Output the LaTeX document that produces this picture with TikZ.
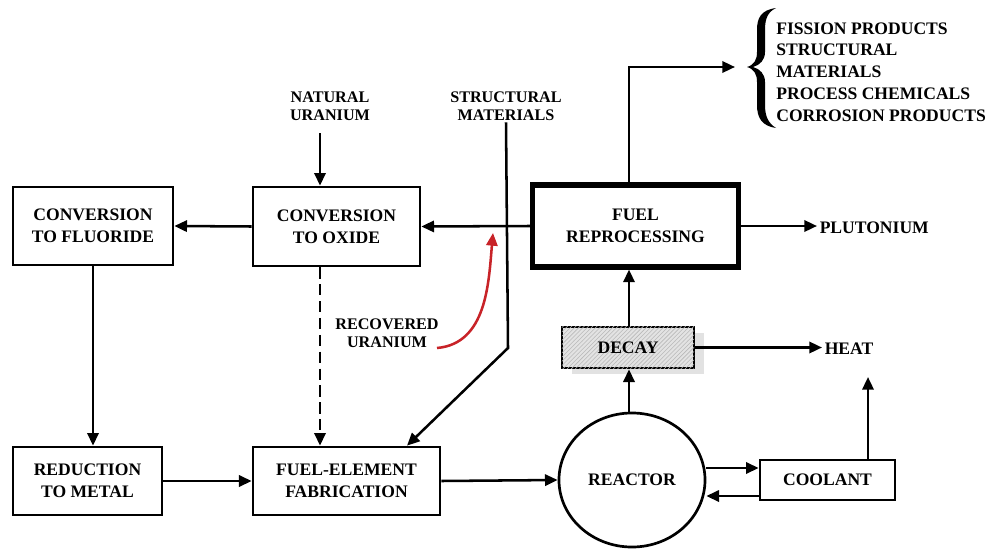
\documentclass[tikz,border=0pt]{standalone}
\usepackage{fontspec}
\setmainfont{Liberation Serif}
\usetikzlibrary{arrows.meta,shapes.geometric,patterns,shadows}

\definecolor{recred}{RGB}{200,35,40}

\tikzset{
	flowbox/.style={draw, line width=1.9pt, align=center, inner sep=2pt,
		font=\fontsize{12.5}{15.5}\selectfont\bfseries},
	label/.style={align=center, inner sep=1pt,
		font=\fontsize{11.5}{13}\selectfont\bfseries},
	flow/.style={line width=1.8pt, -{Triangle[length=9pt,width=8pt]}},
}

\begin{document}
\begin{tikzpicture}[x=0.025cm, y=-0.025cm]

	\useasboundingbox (0,0) rectangle (999,552);

	\node[flowbox, minimum width=4cm, minimum height=1.95cm] (fluoride) at (93,226) {CONVERSION\\TO FLUORIDE};
	\node[flowbox, minimum width=4.175cm, minimum height=1.975cm] (oxide) at (336.5,226.5) {CONVERSION\\TO OXIDE};
	\node[flowbox, line width=3.6pt, minimum width=5.15cm, minimum height=2.05cm] (reproc) at (635.5,226) {FUEL\\REPROCESSING};
	\node[flowbox, minimum width=3.725cm, minimum height=1.7cm] (reduction) at (87.5,481) {REDUCTION\\TO METAL};
	\node[flowbox, minimum width=4.675cm, minimum height=1.7cm] (fab) at (346.5,481) {FUEL-ELEMENT\\FABRICATION};
	\node[flowbox, ellipse, inner sep=0pt, minimum width=3.65cm, minimum height=3.35cm] (reactor) at (632,480) {REACTOR};
	\node[flowbox, minimum width=3.375cm, minimum height=1cm] (coolant) at (827.5,480) {COOLANT};
	\node[flowbox, minimum width=3.3cm, minimum height=1.025cm, fill=gray!22,
		drop shadow={shadow xshift=0.24cm, shadow yshift=-0.16cm, fill=gray!45},
		postaction={pattern=north east lines, pattern color=gray!55}] (decay) at (628,347.5) {DECAY};

	\node[label] (natural) at (330,106) {NATURAL\\URANIUM};
	\node[label] (structural) at (506,106) {STRUCTURAL\\MATERIALS};
	\node[label] (recovered) at (387,333) {RECOVERED\\URANIUM};
	\node[flowbox, draw=none, anchor=west, inner sep=1pt] (plutonium) at (817,228) {PLUTONIUM};
	\node[flowbox, draw=none, anchor=west, inner sep=1pt] (heat) at (822,349) {HEAT};
	\node[flowbox, draw=none, anchor=west, align=left, inner sep=0pt] (waste) at (775,72)
		{FISSION PRODUCTS\\STRUCTURAL\\MATERIALS\\PROCESS CHEMICALS\\CORROSION PRODUCTS};

	\fill (776,8) .. controls (761,10) and (757,18) .. (757,30) -- (757,52)
		.. controls (757,60) and (754,65) .. (747,67)
		.. controls (754,69) and (757,74) .. (757,82) -- (757,105)
		.. controls (757,118) and (762,126) .. (776,128)
		.. controls (768,123) and (765,116) .. (765,105) -- (765,82)
		.. controls (765,74) and (760,69) .. (753,67)
		.. controls (760,65) and (765,60) .. (765,52) -- (765,30)
		.. controls (765,18) and (768,12) .. (776,8) -- cycle;

	\coordinate (nu) at (320,133);
	\coordinate (col) at (629,0);
	\coordinate (hcol) at (868,377);
	\coordinate (smbend) at (508,348);
	\coordinate (smend) at (407,0);
	\coordinate (wastein) at (735,67);
	\coordinate (rustart) at (437,348);
	\coordinate (rutip) at (493,233);

	\draw[flow] (nu) -- (nu |- oxide.north);
	\draw[flow] (oxide.west) -- (fluoride.east);
	\draw[flow] (fluoride.south) -- (fluoride.south |- reduction.north);
	\draw[flow] (reduction.east) -- (fab.west);
	\draw[flow, dash pattern=on 8pt off 4pt] (nu |- oxide.south) -- (nu |- fab.north);
	\draw[flow] (fab.east) -- (reactor.west);
	\draw[flow] (reproc.west) -- (oxide.east);
	\draw[flow] (reproc.east) -- (reproc.east -| plutonium.west);
	\draw[flow] (structural.south) -- (smbend) -- (smend |- fab.north);

	\draw[flow, color=recred]
	(rustart)
	to [out=5, in=-95]
	(rutip);

	\draw[flow] (col |- reactor.north) -- (col |- decay.south);
	\draw[flow] (col |- decay.north) -- (col |- reproc.south);
	\draw[flow] (col |- reproc.north) |- (wastein);
	\draw[flow] (decay.east) -- (decay.east -| heat.west);
	\draw[flow] ([yshift=0.3cm]reactor.east) -- ([yshift=0.3cm]coolant.west);
	\draw[flow] ([yshift=-0.4cm]coolant.west) -- ([yshift=-0.4cm]reactor.east);
	\draw[flow] (hcol |- coolant.north) -- (hcol);

\end{tikzpicture}
\end{document}
